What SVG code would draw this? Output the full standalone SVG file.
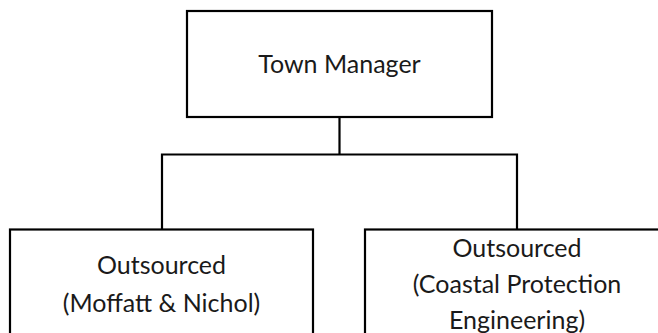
<svg xmlns="http://www.w3.org/2000/svg" width="658" height="333" viewBox="0 0 658 333">
<style>
.box{fill:#fff;stroke:#000;stroke-width:2.2}
.conn{fill:none;stroke:#000;stroke-width:2.2}
text{font-family:Lato,"Open Sans","Liberation Sans",sans-serif;font-size:25px;fill:#1a1a1a;text-anchor:middle}
</style>
<rect width="658" height="333" fill="#fff"/>
<g id="connectors">
<path class="conn" d="M339.5 117V154.5M162 229.5V154.5H517V229.5"/>
</g>
<g id="town-manager">
<rect class="box" x="187" y="11" width="305" height="106"/>
<text x="339.5" y="73">Town Manager</text>
</g>
<g id="moffatt-nichol">
<rect class="box" x="10" y="229.5" width="303" height="120"/>
<text x="161.5" y="274">Outsourced</text>
<text x="161.5" y="311.5">(Moffatt &amp; Nichol)</text>
</g>
<g id="coastal-protection">
<rect class="box" x="365" y="229.5" width="304" height="120"/>
<text x="517" y="256.5">Outsourced</text>
<text x="517" y="293">(Coastal Protection</text>
<text x="517" y="329">Engineering)</text>
</g>
</svg>
